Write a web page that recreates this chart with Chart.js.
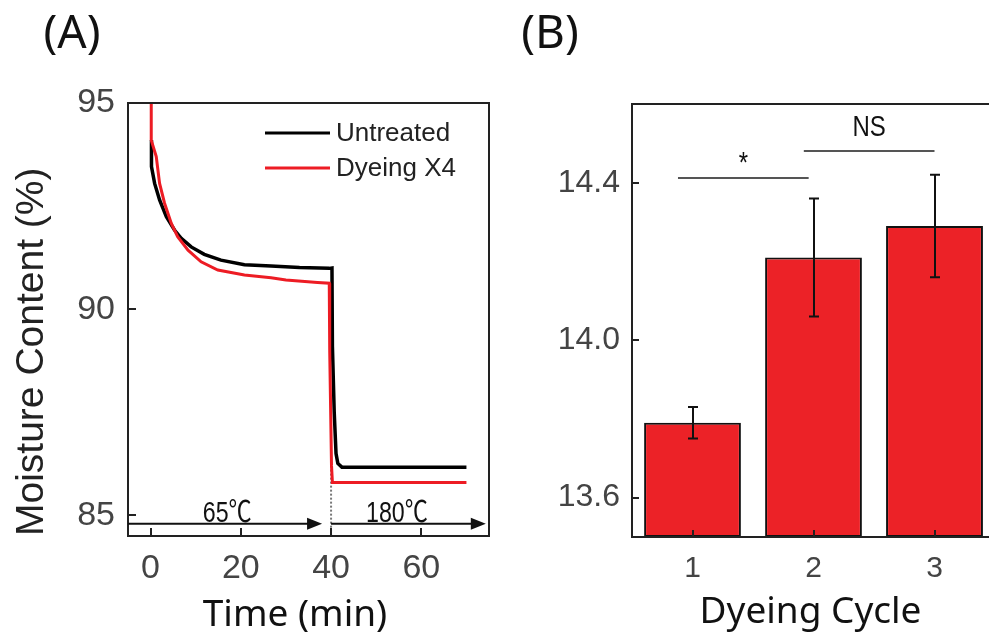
<!DOCTYPE html>
<html>
<head>
<meta charset="utf-8">
<script src="https://cdn.jsdelivr.net/npm/chart.js@4.4.0/dist/chart.umd.min.js"></script>
<style>
html, body { margin: 0; padding: 0; background: #fff; overflow: hidden; width: 989px; height: 635px; }
#chartA { position: absolute; left: 0; top: 0; }
#chartB { position: absolute; left: 500px; top: 0; }
</style>
</head>
<body>
<canvas id="chartA" width="500" height="635"></canvas>
<canvas id="chartB" width="520" height="635"></canvas>
<script>
"use strict";

// (A) 건조 곡선 - 시간(min)
const timeUntreated = [0.2, 0.2, 0.9, 2.0, 3.5, 5.3, 6.8, 9.0, 11.9, 15.6, 20.8, 26.7, 33, 39.6, 40.2, 40.3, 40.7, 41.1, 41.5, 42.4, 50, 60, 70];
const untreated     = [94.1, 93.46, 93.05, 92.65, 92.24, 91.92, 91.72, 91.51, 91.33, 91.19, 91.08, 91.05, 91.01, 90.99, 91.0, 89.1, 87.5, 86.5, 86.26, 86.17, 86.17, 86.17, 86.17];
const timeDyed      = [0.15, 0.15, 1.26, 2.0, 3.1, 4.6, 6.0, 8.3, 11.2, 14.9, 20.8, 26.7, 30, 37, 39.6, 39.7, 40.1, 40.3, 70];
const dyed          = [95.3, 94.1, 93.7, 93.05, 92.57, 92.08, 91.76, 91.43, 91.15, 90.95, 90.83, 90.76, 90.71, 90.65, 90.63, 89.0, 86.2, 85.8, 85.8];
const timeTicks     = [0, 20, 40, 60];
const moistureTicks = [85, 90, 95];

// (B) 염색 횟수별 평균 / 표준편차
const cycles       = ["1", "2", "3"];
const cycleMeans   = [13.79, 14.21, 14.29];
const cycleErrors  = [0.04, 0.15, 0.13];
const contentTicks = [13.6, 14.0, 14.4];

// 온도 구간 표시 (A)
const stageLabels = ["65℃", "180℃"];
const stageStart  = [-5, 40];
const stageEnd    = [38, 74.3];
const stageTextAt = [17, 54.6];

// 유의성 표시 (B)
const sigMarks = [
    { label: "*",  from: -0.12, to: 0.96, y: 14.413, dy: 14 },
    { label: "NS", from: 0.92,  to: 2.0,  y: 14.48,  dy: 23 }
];

const toPoints = (xs, ys) => xs.map((x, i) => ({ x: x, y: ys[i] }));

function drawBox(chart) {
    const { ctx, chartArea: a } = chart;
    ctx.save();
    ctx.strokeStyle = "#222";
    ctx.lineWidth = 2;
    ctx.strokeRect(a.left, a.top, a.right - a.left, a.bottom - a.top);
    ctx.restore();
}

// 안쪽으로 향하는 눈금
function drawInwardTicks(chart, len) {
    const { ctx, chartArea: a, scales } = chart;
    ctx.save();
    ctx.strokeStyle = "#222";
    ctx.lineWidth = 2;
    ctx.beginPath();
    scales.x.ticks.forEach((t, i) => {
        const px = Math.round(scales.x.getPixelForTick(i));
        ctx.moveTo(px, a.bottom);
        ctx.lineTo(px, a.bottom - len);
    });
    scales.y.ticks.forEach((t, i) => {
        const py = Math.round(scales.y.getPixelForTick(i));
        ctx.moveTo(a.left, py);
        ctx.lineTo(a.left + len, py);
    });
    ctx.stroke();
    ctx.restore();
}

function drawText(ctx, text, x, y, font, baseline) {
    ctx.save();
    ctx.font = font;
    ctx.fillStyle = "#111";
    ctx.textAlign = "center";
    ctx.textBaseline = baseline || "middle";
    ctx.fillText(text, x, y);
    ctx.restore();
}

// 좁은 글꼴 대신 가로 축소
function drawNarrowText(ctx, text, x, y, size, baseline) {
    ctx.save();
    ctx.translate(x, y);
    ctx.scale(0.8, 1);
    ctx.font = size + "px 'Liberation Sans', 'Noto Sans CJK KR'";
    ctx.fillStyle = "#111";
    ctx.textAlign = "center";
    ctx.textBaseline = baseline;
    ctx.fillText(text, 0, 0);
    ctx.restore();
}

const panelAPlugin = {
    id: "panelA",
    beforeDatasetsDraw(chart) {
        // 40분 경계 점선
        const { ctx, chartArea: a, scales } = chart;
        const x = scales.x.getPixelForValue(40);
        ctx.save();
        ctx.strokeStyle = "#777";
        ctx.lineWidth = 2;
        ctx.setLineDash([2, 2]);
        ctx.beginPath();
        ctx.moveTo(x, scales.y.getPixelForValue(86.4));
        ctx.lineTo(x, a.bottom);
        ctx.stroke();
        ctx.restore();
    },
    afterDraw(chart) {
        const { ctx, chartArea: a, scales } = chart;
        drawBox(chart);
        drawInwardTicks(chart, 8);

        // 온도 구간 화살표
        const y = scales.y.getPixelForValue(84.8);
        ctx.save();
        ctx.strokeStyle = "#111";
        ctx.fillStyle = "#111";
        ctx.lineWidth = 2;
        stageLabels.forEach((label, i) => {
            const x1 = Math.max(a.left, scales.x.getPixelForValue(stageStart[i]));
            const x2 = scales.x.getPixelForValue(stageEnd[i]);
            ctx.beginPath();
            ctx.moveTo(x1, y);
            ctx.lineTo(x2 - 12, y);
            ctx.stroke();
            ctx.beginPath();
            ctx.moveTo(x2, y);
            ctx.lineTo(x2 - 15, y - 6);
            ctx.lineTo(x2 - 15, y + 6);
            ctx.closePath();
            ctx.fill();
            drawNarrowText(ctx, label, scales.x.getPixelForValue(stageTextAt[i]), y - 2, 29, "alphabetic");
        });
        ctx.restore();

        // 범례
        ctx.save();
        chart.data.datasets.forEach((ds, i) => {
            const ly = a.top + 30 + i * 35;
            ctx.strokeStyle = ds.borderColor;
            ctx.lineWidth = 3;
            ctx.beginPath();
            ctx.moveTo(a.right - 224, ly);
            ctx.lineTo(a.right - 159, ly);
            ctx.stroke();
            ctx.font = "26px 'Liberation Sans'";
            ctx.fillStyle = "#222";
            ctx.textAlign = "left";
            ctx.textBaseline = "middle";
            ctx.fillText(ds.label, a.right - 153, ly + 1);
        });
        ctx.restore();

        drawText(ctx, "Time (min)", 295, 626, "37px 'Noto Sans'", "alphabetic");
        drawText(ctx, "(A)", 72, 35, "46px 'Noto Sans'");
    }
};

const panelBPlugin = {
    id: "panelB",
    afterDatasetsDraw(chart) {
        const { ctx, scales } = chart;
        const meta = chart.getDatasetMeta(0);
        // 오차 막대
        ctx.save();
        ctx.strokeStyle = "#111";
        ctx.lineWidth = 2;
        meta.data.forEach((bar, i) => {
            const x = Math.round(bar.x);
            const yTop = scales.y.getPixelForValue(cycleMeans[i] + cycleErrors[i]);
            const yBot = scales.y.getPixelForValue(cycleMeans[i] - cycleErrors[i]);
            ctx.beginPath();
            ctx.moveTo(x, yTop);
            ctx.lineTo(x, yBot);
            ctx.moveTo(x - 5, yTop);
            ctx.lineTo(x + 5, yTop);
            ctx.moveTo(x - 5, yBot);
            ctx.lineTo(x + 5, yBot);
            ctx.stroke();
        });
        ctx.restore();
    },
    afterDraw(chart) {
        const { ctx, chartArea: a, scales } = chart;
        drawBox(chart);
        drawInwardTicks(chart, 7);

        // 유의성 표시
        ctx.save();
        sigMarks.forEach(m => {
            const x1 = scales.x.getPixelForValue(m.from);
            const x2 = scales.x.getPixelForValue(m.to);
            const y = Math.round(scales.y.getPixelForValue(m.y));
            ctx.strokeStyle = "#555";
            ctx.lineWidth = 2;
            ctx.beginPath();
            ctx.moveTo(x1, y);
            ctx.lineTo(x2, y);
            ctx.stroke();
            drawNarrowText(ctx, m.label, (x1 + x2) / 2, y - m.dy, 30, "middle");
        });
        ctx.restore();

        drawText(ctx, "Dyeing Cycle", (a.left + 995 - 500) / 2 - 3, 623, "37px 'Noto Sans'", "alphabetic");
        drawText(ctx, "(B)", 50, 35, "46px 'Noto Sans'");
    }
};

const tickFont = { family: "'Liberation Sans'", size: 34 };

new Chart(document.getElementById("chartA"), {
    type: "line",
    data: {
        datasets: [
            {
                label: "Untreated",
                data: toPoints(timeUntreated, untreated),
                borderColor: "#000000",
                borderWidth: 3.5,
                pointRadius: 0,
                tension: 0,
                order: 2
            },
            {
                label: "Dyeing X4",
                data: toPoints(timeDyed, dyed),
                borderColor: "#ED1C24",
                borderWidth: 3,
                pointRadius: 0,
                tension: 0,
                order: 1
            }
        ]
    },
    options: {
        responsive: false,
        animation: false,
        layout: { padding: { left: 0, top: 103, right: 11, bottom: 0 } },
        plugins: { legend: { display: false }, tooltip: { enabled: false } },
        scales: {
            x: {
                type: "linear",
                min: -5,
                max: 75,
                afterBuildTicks: s => { s.ticks = timeTicks.map(v => ({ value: v })); },
                afterFit: s => { s.height = 99; },
                grid: { display: false, drawTicks: false },
                border: { display: false },
                ticks: { color: "#444", font: tickFont, padding: 12, maxRotation: 0 }
            },
            y: {
                min: 84.5,
                max: 95,
                afterBuildTicks: s => { s.ticks = moistureTicks.map(v => ({ value: v })); },
                afterFit: s => { s.width = 128; },
                grid: { display: false, drawTicks: false },
                border: { display: false },
                ticks: { color: "#444", font: tickFont, padding: 13 },
                title: {
                    display: true, text: "Moisture Content (%)", color: "#222", align: "start",
                    font: { family: "'Liberation Sans'", size: 39 }, padding: { top: 9, bottom: 0 }
                }
            }
        }
    },
    plugins: [panelAPlugin]
});

new Chart(document.getElementById("chartB"), {
    type: "bar",
    data: {
        labels: cycles,
        datasets: [
            {
                label: "Moisture",
                data: cycleMeans,
                base: 13.5,
                backgroundColor: "#EC2227",
                borderColor: "#111",
                borderWidth: 2,
                borderSkipped: false,
                barPercentage: 0.8,
                categoryPercentage: 1.0
            }
        ]
    },
    options: {
        responsive: false,
        animation: false,
        layout: { padding: { left: 0, top: 104, right: 25, bottom: 0 } },
        plugins: { legend: { display: false }, tooltip: { enabled: false } },
        scales: {
            x: {
                afterFit: s => { s.height = 98; },
                grid: { display: false, drawTicks: false },
                border: { display: false },
                ticks: { color: "#444", font: { family: "'Liberation Sans'", size: 30 }, padding: 14 }
            },
            y: {
                min: 13.5,
                max: 14.6,
                afterBuildTicks: s => { s.ticks = contentTicks.map(v => ({ value: v })); },
                afterFit: s => { s.width = 132; },
                grid: { display: false, drawTicks: false },
                border: { display: false },
                ticks: { color: "#444", font: { family: "'Liberation Sans'", size: 32 }, padding: 12, callback: v => v.toFixed(1) }
            }
        }
    },
    plugins: [panelBPlugin]
});
</script>
</body>
</html>
